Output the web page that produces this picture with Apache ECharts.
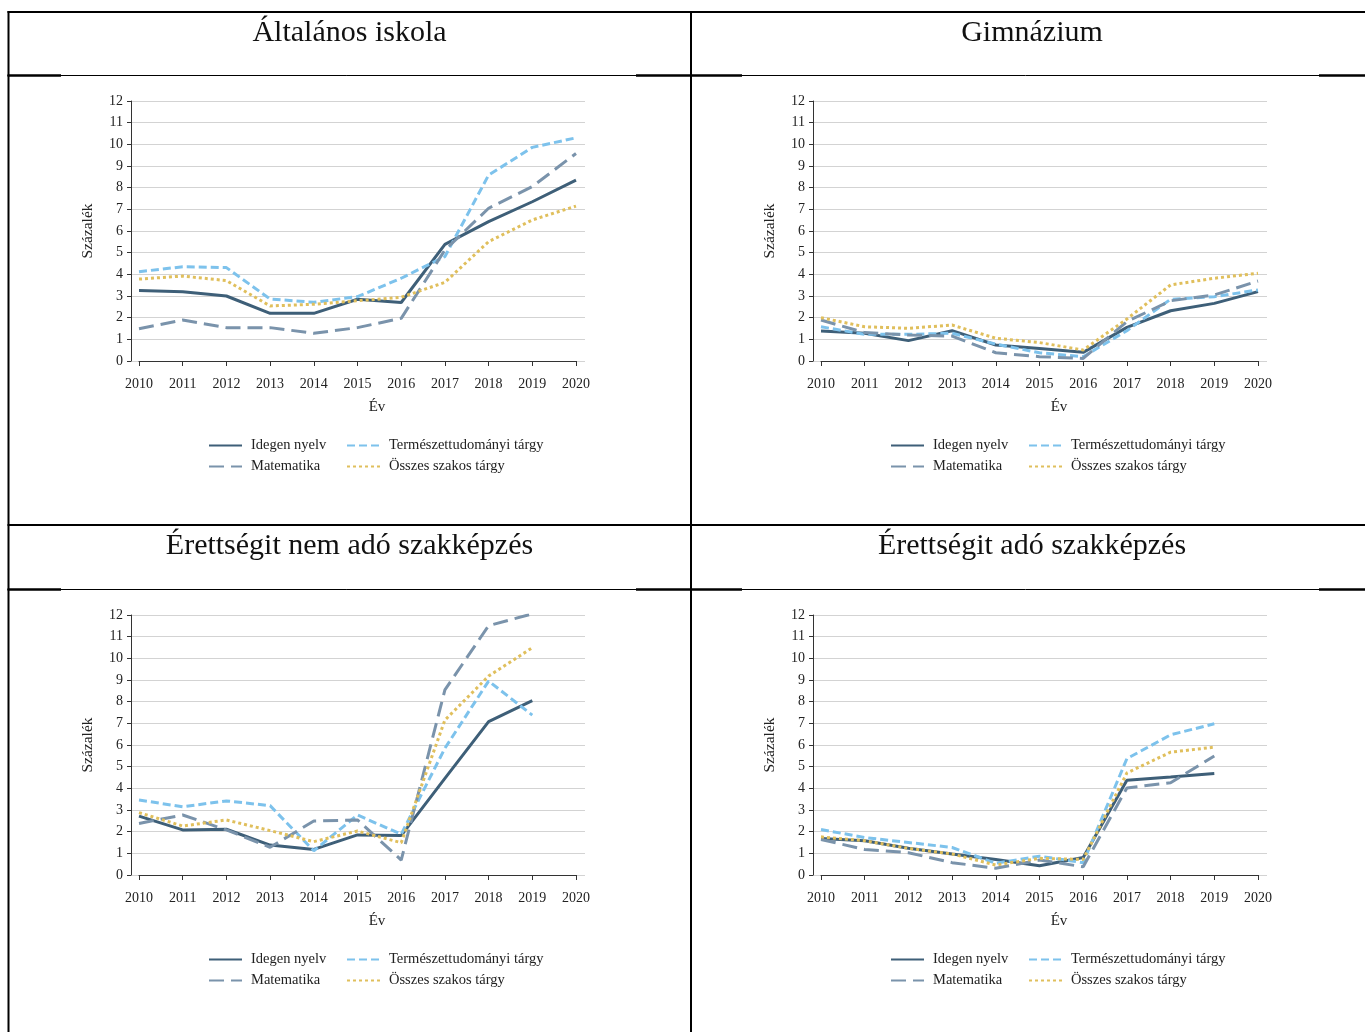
<!DOCTYPE html>
<html>
<head>
<meta charset="utf-8">
<script src="https://cdn.jsdelivr.net/npm/echarts@6/dist/echarts.min.js"></script>
<style>
html,body{margin:0;padding:0;background:#fff;}
#c{width:1365px;height:1032px;}
</style>
</head>
<body>
<div id="c"></div>
<script>
// ---- data ----
const years = [2010, 2011, 2012, 2013, 2014, 2015, 2016, 2017, 2018, 2019, 2020];
const seriesNames = ['Idegen nyelv', 'Természettudományi tárgy', 'Matematika', 'Összes szakos tárgy'];
const panelTitles = ['Általános iskola', 'Gimnázium', 'Érettségit nem adó szakképzés', 'Érettségit adó szakképzés'];
const yTicks = [0, 1, 2, 3, 4, 5, 6, 7, 8, 9, 10, 11, 12];
const xTicks = ['2010', '2011', '2012', '2013', '2014', '2015', '2016', '2017', '2018', '2019', '2020'];

// Általános iskola
const altIdegen = [3.25, 3.2, 3.0, 2.2, 2.2, 2.85, 2.7, 5.38, 6.43, 7.35, 8.35];
const altTermTud = [4.12, 4.35, 4.31, 2.86, 2.71, 2.97, 3.82, 4.82, 8.58, 9.86, 10.3];
const altMatek = [1.49, 1.89, 1.54, 1.54, 1.28, 1.54, 1.97, 5.12, 7.05, 8.05, 9.58];
const altOsszes = [3.78, 3.92, 3.71, 2.54, 2.62, 2.78, 2.94, 3.63, 5.51, 6.51, 7.15];

// Gimnázium
const gimIdegen = [1.38, 1.28, 0.94, 1.4, 0.74, 0.58, 0.4, 1.55, 2.32, 2.66, 3.2];
const gimTermTud = [1.58, 1.23, 1.23, 1.28, 0.78, 0.38, 0.2, 1.4, 2.85, 2.97, 3.28];
const gimMatek = [1.89, 1.31, 1.2, 1.15, 0.38, 0.2, 0.12, 1.82, 2.78, 3.05, 3.69];
const gimOsszes = [2.0, 1.58, 1.51, 1.66, 1.05, 0.85, 0.51, 1.94, 3.51, 3.82, 4.05];

// Érettségit nem adó szakképzés
const nemIdegen = [2.72, 2.08, 2.11, 1.38, 1.18, 1.85, 1.82, 4.46, 7.08, 8.05];
const nemTermTud = [3.46, 3.15, 3.42, 3.2, 1.12, 2.77, 1.88, 5.85, 8.95, 7.38];
const nemMatek = [2.38, 2.77, 2.08, 1.28, 2.49, 2.54, 0.69, 8.54, 11.51, 12.05];
const nemOsszes = [2.88, 2.26, 2.54, 2.05, 1.54, 2.03, 1.49, 7.15, 9.18, 10.49];

// Érettségit adó szakképzés
const adoIdegen = [1.69, 1.58, 1.23, 0.97, 0.72, 0.43, 0.81, 4.37, 4.52, 4.68];
const adoTermTud = [2.1, 1.73, 1.5, 1.27, 0.54, 0.87, 0.57, 5.37, 6.47, 6.98];
const adoMatek = [1.64, 1.18, 1.03, 0.57, 0.31, 0.69, 0.38, 4.02, 4.26, 5.49];
const adoOsszes = [1.76, 1.58, 1.23, 0.97, 0.46, 0.77, 0.72, 4.71, 5.67, 5.9];

const panelData = [
  [altIdegen, altTermTud, altMatek, altOsszes],
  [gimIdegen, gimTermTud, gimMatek, gimOsszes],
  [nemIdegen, nemTermTud, nemMatek, nemOsszes],
  [adoIdegen, adoTermTud, adoMatek, adoOsszes]
];

// ---- styles ----
const FONT = '"Liberation Serif", "Times New Roman", serif';
const seriesStyles = [
  { color: '#3e5f78', type: 'solid', width: 3 },
  { color: '#7dc2ec', type: [8, 4], width: 3 },
  { color: '#7a93ab', type: [15, 7], width: 3 },
  { color: '#e0bf5c', type: [3, 3], width: 3 }
];
const offX = [0, 682, 0, 682];
const offY = [0, 0, 514, 514];

const grids = [], xAxes = [], yAxes = [], series = [], legends = [], graphics = [];

for (let p = 0; p < 4; p++) {
  const dx = offX[p], dy = offY[p];
  const gA = grids.length;
  grids.push({ left: 139 + dx, top: 101 + dy, width: 437, height: 260 });
  const gB = grids.length;
  grids.push({ left: 131 + dx, top: 101 + dy, width: 454, height: 260 });

  xAxes.push({
    gridIndex: gA, type: 'value', min: 2010, max: 2020, interval: 1,
    offset: 9,
    axisLine: { show: true, lineStyle: { color: '#333', width: 1 } },
    axisTick: { show: true, length: 5, lineStyle: { color: '#333' } },
    axisLabel: { show: true, margin: 7, color: '#222', fontFamily: FONT, fontSize: 14,
      formatter: v => xTicks[years.indexOf(v)] || String(v) },
    splitLine: { show: false }
  });
  xAxes.push({ gridIndex: gB, type: 'value', min: 0, max: 1, show: false });

  yAxes.push({
    gridIndex: gA, type: 'value', min: 0, max: 12, interval: 1,
    offset: 8,
    name: 'Százalék', nameLocation: 'middle', nameGap: 35, nameRotate: 90,
    nameTextStyle: { fontFamily: FONT, fontSize: 15.5, color: '#222' },
    axisLine: { show: true, lineStyle: { color: '#333', width: 1 } },
    axisTick: { show: true, length: 4, lineStyle: { color: '#333' } },
    axisLabel: { show: true, margin: 8, color: '#222', fontFamily: FONT, fontSize: 14,
      formatter: v => String(yTicks[v] !== undefined ? yTicks[v] : v) },
    splitLine: { show: false }
  });
  yAxes.push({
    gridIndex: gB, type: 'value', min: 0, max: 12, interval: 1,
    axisLine: { show: false }, axisTick: { show: false }, axisLabel: { show: false },
    splitLine: { show: true, lineStyle: { color: '#d3d3d3', width: 1 } }
  });

  const xIdx = xAxes.length - 2, yIdx = yAxes.length - 2;
  panelData[p].forEach((arr, s) => {
    const st = seriesStyles[s];
    series.push({
      type: 'line', name: seriesNames[s],
      xAxisIndex: xIdx, yAxisIndex: yIdx,
      data: arr.map((v, i) => [years[i], v]),
      symbol: 'none', showSymbol: false, silent: true,
      lineStyle: { color: st.color, width: st.width, type: st.type, cap: 'butt' },
      itemStyle: { color: st.color },
      z: 3 + s
    });
  });

  const legendCommon = {
    orient: 'vertical', itemWidth: 33, itemHeight: 14, itemGap: 6, padding: 0,
    selectedMode: false,
    itemStyle: { opacity: 0 },
    textStyle: { fontFamily: FONT, fontSize: 14.5, color: '#222', padding: [0, 0, 0, 4] }
  };
  legends.push(Object.assign({}, legendCommon, { left: 208 + dx, top: 438 + dy, data: [seriesNames[0], seriesNames[2]] }));
  legends.push(Object.assign({}, legendCommon, { left: 346 + dx, top: 438 + dy, data: [seriesNames[1], seriesNames[3]] }));

  graphics.push({ type: 'text', x: 377 + dx, y: 407 + dy,
    style: { text: 'Év', font: '15px ' + FONT, fill: '#222', textAlign: 'center', textVerticalAlign: 'middle' } });
}

// panel titles
const titleCenters = [[349.5, 32], [1032, 32], [349.5, 545], [1032, 545]];
panelTitles.forEach((t, i) => {
  graphics.push({ type: 'text', x: titleCenters[i][0], y: titleCenters[i][1] + 1,
    style: { text: t, font: '30px ' + FONT, fill: '#111', textAlign: 'center', textVerticalAlign: 'middle' } });
});

// table borders
function hline(y, x1, x2, w) {
  graphics.push({ type: 'line', shape: { x1: x1, y1: y, x2: x2, y2: y }, style: { stroke: '#000', lineWidth: w }, silent: true });
}
function vline(x, y1, y2, w) {
  graphics.push({ type: 'line', shape: { x1: x, y1: y1, x2: x, y2: y2 }, style: { stroke: '#000', lineWidth: w }, silent: true });
}
hline(12, 7.5, 1365, 2);
vline(8.5, 11, 1032, 2);
vline(691, 11, 1032, 2);
hline(525, 7.5, 1365, 2);
[75.5, 589.5].forEach(y => {
  hline(y, 7.5, 1365, 1);
  hline(y, 7.5, 61, 2.5);
  hline(y, 636, 742, 2.5);
  hline(y, 1319, 1365, 2.5);
});

const chart = echarts.init(document.getElementById('c'), null, { renderer: 'canvas' });
chart.setOption({
  animation: false,
  backgroundColor: '#fff',
  grid: grids,
  xAxis: xAxes,
  yAxis: yAxes,
  legend: legends,
  series: series,
  graphic: graphics
});
</script>
</body>
</html>
